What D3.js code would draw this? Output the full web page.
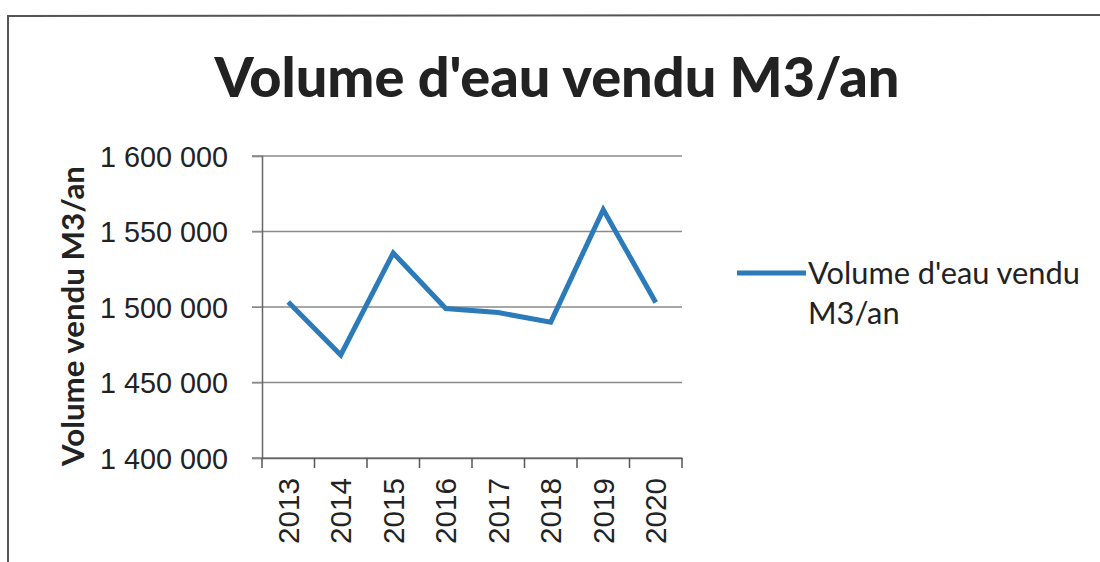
<!DOCTYPE html>
<html>
<head>
  <meta charset="utf-8">
  <title>Volume d'eau vendu M3/an</title>
  <script src="https://d3js.org/d3.v7.min.js"></script>
  <style>
    body { margin: 0; background: #fff; }
    svg { display: block; font-family: Lato, "Open Sans", sans-serif; }
  </style>
</head>
<body>
  <svg id="chart" width="1100" height="562"></svg>
  <script>
    const years = ["2013", "2014", "2015", "2016", "2017", "2018", "2019", "2020"];
    const volumes = [1503300, 1468200, 1535800, 1499000, 1496300, 1490000, 1564500, 1503000];
    const yTicks = [1400000, 1450000, 1500000, 1550000, 1600000];
    const titleText = "Volume d'eau vendu M3/an";
    const yTitle = "Volume vendu M3/an";
    const legendLines = ["Volume d'eau vendu", "M3/an"];

    const svg = d3.select("#chart");
    const lineColor = "#2b7bba";

    // scale a text's font so it fills the width seen on the scan
    function fit(sel, size, target) {
      const w = sel.node().getComputedTextLength();
      return size * target / w;
    }

    // frame of the scanned chart
    svg.append("path")
      .attr("d", "M8,562 L8,16 L1100,15")
      .attr("fill", "none")
      .attr("stroke", "#555")
      .attr("stroke-width", 2);

    const x = d3.scaleBand().domain(years).range([262, 682]).padding(0);
    const y = d3.scaleLinear().domain([1400000, 1600000]).range([458, 156]);
    const fmt = v => d3.format(",")(v).replace(/,/g, " ");

    // gridlines
    svg.append("g")
      .selectAll("line")
      .data(yTicks)
      .join("line")
      .attr("x1", 252).attr("x2", 682)
      .attr("y1", d => y(d)).attr("y2", d => y(d))
      .attr("stroke", "#8a8a8a")
      .attr("stroke-width", 1.3);

    // y axis
    const yAxis = svg.append("g")
      .attr("transform", "translate(262,0)")
      .call(d3.axisLeft(y).tickValues(yTicks).tickFormat(fmt).tickSize(10).tickPadding(24));
    yAxis.select(".domain").attr("stroke", "#666").attr("stroke-width", 1.5);
    yAxis.selectAll(".tick line").attr("stroke", "#8a8a8a");
    const yLabels = yAxis.selectAll("text")
      .attr("font-size", 26)
      .attr("fill", "#222")
      .attr("dy", "0.36em");
    yLabels.attr("font-size", fit(d3.select(yLabels.nodes()[0]), 26, 128));

    // x axis
    const xAxis = svg.append("g")
      .attr("transform", "translate(0,458)")
      .call(d3.axisBottom(x).tickSize(0).tickPadding(0));
    xAxis.select(".domain").attr("stroke", "#666").attr("stroke-width", 1.5);
    const xLabels = xAxis.selectAll("text")
      .attr("font-size", 25)
      .attr("fill", "#222")
      .attr("transform", "translate(0,20) rotate(-90)")
      .attr("text-anchor", "end")
      .attr("dy", "0.36em")
      .attr("y", 0)
      .attr("x", 0);
    xLabels.attr("font-size", fit(d3.select(xLabels.nodes()[0]), 25, 66));

    // category boundary ticks
    svg.append("g")
      .selectAll("line")
      .data(years.concat(["end"]))
      .join("line")
      .attr("x1", (d, i) => i < years.length ? x(d) : x.range()[1])
      .attr("x2", (d, i) => i < years.length ? x(d) : x.range()[1])
      .attr("y1", 458).attr("y2", 468)
      .attr("stroke", "#555")
      .attr("stroke-width", 1.5);

    // line series
    const line = d3.line()
      .x((d, i) => x(years[i]) + x.bandwidth() / 2)
      .y(d => y(d));
    svg.append("path")
      .datum(volumes)
      .attr("d", line)
      .attr("fill", "none")
      .attr("stroke", lineColor)
      .attr("stroke-width", 5)
      .attr("stroke-linejoin", "miter");

    // title
    const title = svg.append("text")
      .attr("x", 557).attr("y", 97)
      .attr("text-anchor", "middle")
      .attr("font-weight", 900)
      .attr("font-size", 46)
      .attr("fill", "#222")
      .text(titleText);
    title.attr("font-size", fit(title, 46, 685));

    // y axis title
    const yt = svg.append("text")
      .attr("transform", "translate(84,316) rotate(-90)")
      .attr("text-anchor", "middle")
      .attr("font-weight", "bold")
      .attr("font-size", 24)
      .attr("fill", "#222")
      .text(yTitle);
    yt.attr("font-size", fit(yt, 24, 300));

    // legend
    svg.append("line")
      .attr("x1", 737).attr("x2", 806)
      .attr("y1", 273).attr("y2", 273)
      .attr("stroke", lineColor)
      .attr("stroke-width", 5);
    const leg = svg.append("g")
      .selectAll("text")
      .data(legendLines)
      .join("text")
      .attr("x", 808)
      .attr("y", (d, i) => 284 + i * 40)
      .attr("font-size", 25)
      .attr("fill", "#222")
      .text(d => d);
    leg.attr("font-size", fit(d3.select(leg.nodes()[0]), 25, 272));
  </script>
</body>
</html>
